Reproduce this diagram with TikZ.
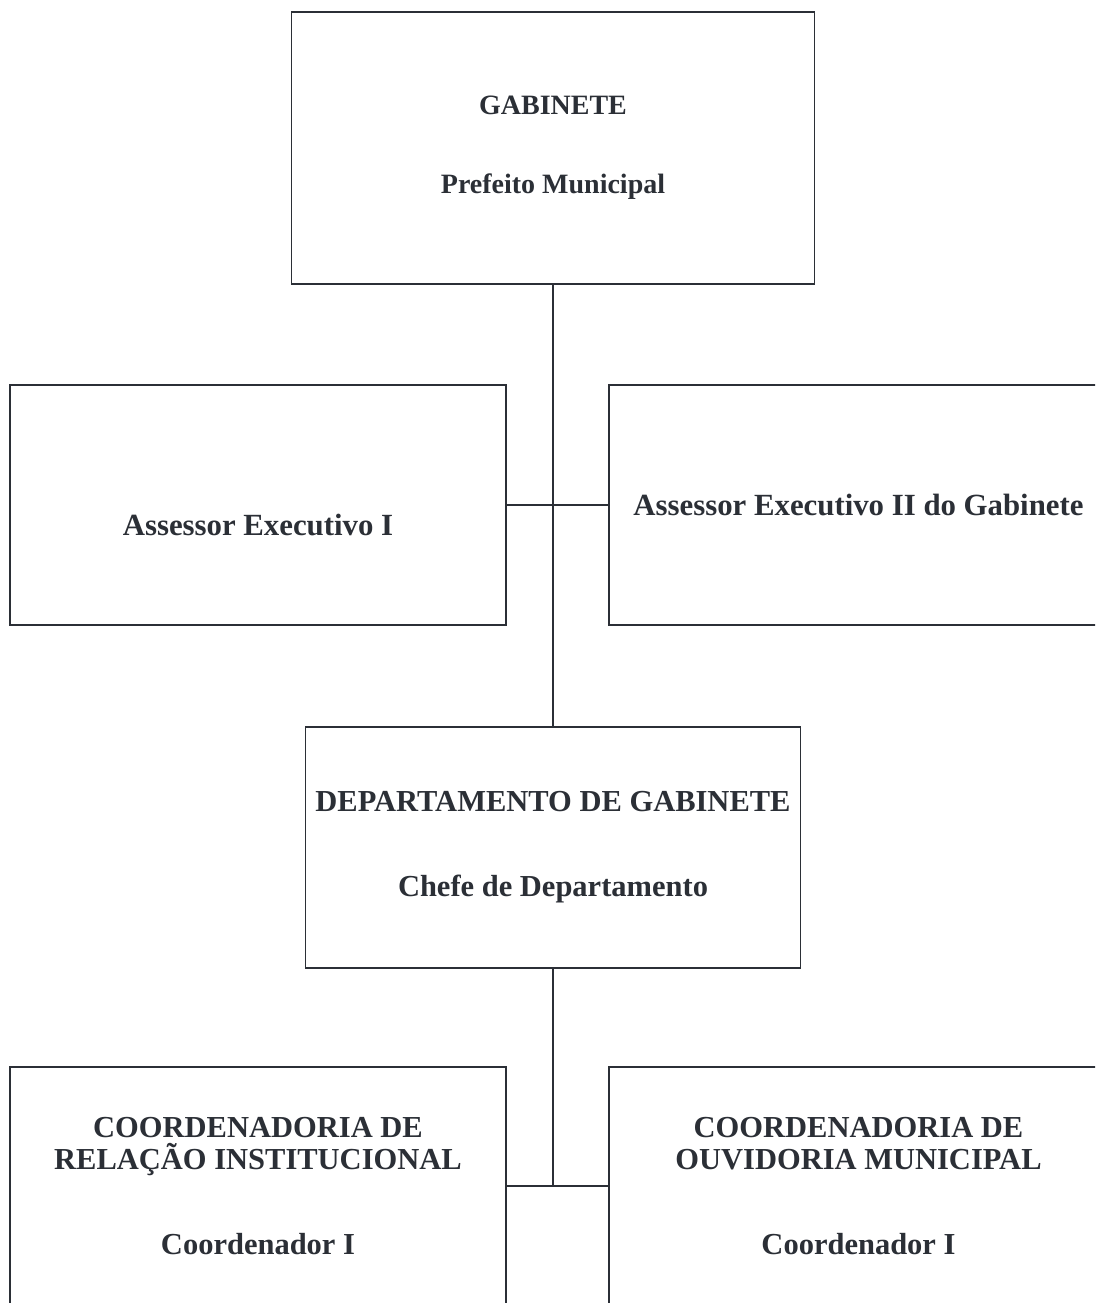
\documentclass[tikz,border=0pt]{standalone}
\usepackage{fontspec}
\setmainfont{Liberation Serif}
\usetikzlibrary{positioning}
\definecolor{ink}{HTML}{2B2F36}
\tikzset{
  orgbox/.style={draw=ink, line width=1.6pt, text=ink, align=center, inner sep=0pt},
  link/.style={draw=ink, line width=1.8pt},
  topfont/.style={font={\bfseries\fontsize{28}{34}\selectfont}},
  unitfont/.style={font={\bfseries\fontsize{30.5}{32}\selectfont}},
  asfont/.style={font={\bfseries\fontsize{30.8}{34}\selectfont}}
}
\begin{document}
\begin{tikzpicture}[x=1pt,y=-1pt]
\clip (0,0) rectangle (1095,1303);
\fill[white] (0,0) rectangle (1095,1303);
% gabinete
\node[orgbox, topfont, minimum width=523pt, minimum height=272pt] (gab) at (553,148) {GABINETE\\[45pt]Prefeito Municipal};
% assessores
\node[orgbox, minimum width=496pt, minimum height=240pt] (aesq) at (258,505) {};
\node[text=ink, asfont] (aesqtxt) at (258,525) {Assessor Executivo I};
\node[orgbox, asfont, minimum width=499pt, minimum height=240pt] (adir) at (858.5,505) {Assessor Executivo II do Gabinete};
% departamento
\node[orgbox, unitfont, minimum width=495pt, minimum height=241pt] (dep) at (553,847.5) {DEPARTAMENTO DE GABINETE\\[53pt]Chefe de Departamento};
% coordenadorias
\node[orgbox, unitfont, minimum width=496pt, minimum height=238pt] (cesq) at (258,1186) {COORDENADORIA DE\\RELAÇÃO INSTITUCIONAL\\[53pt]Coordenador I};
\node[orgbox, unitfont, minimum width=499pt, minimum height=238pt] (cdir) at (858.5,1186) {COORDENADORIA DE\\OUVIDORIA MUNICIPAL\\[53pt]Coordenador I};
% ligacoes
\draw[link] (gab.south) -- (dep.north);
\draw[link] (aesq.east) -- (adir.west);
\draw[link] (dep.south) -- (dep.south |- cesq.east);
\draw[link] (cesq.east) -- (cdir.west);
\end{tikzpicture}
\end{document}
